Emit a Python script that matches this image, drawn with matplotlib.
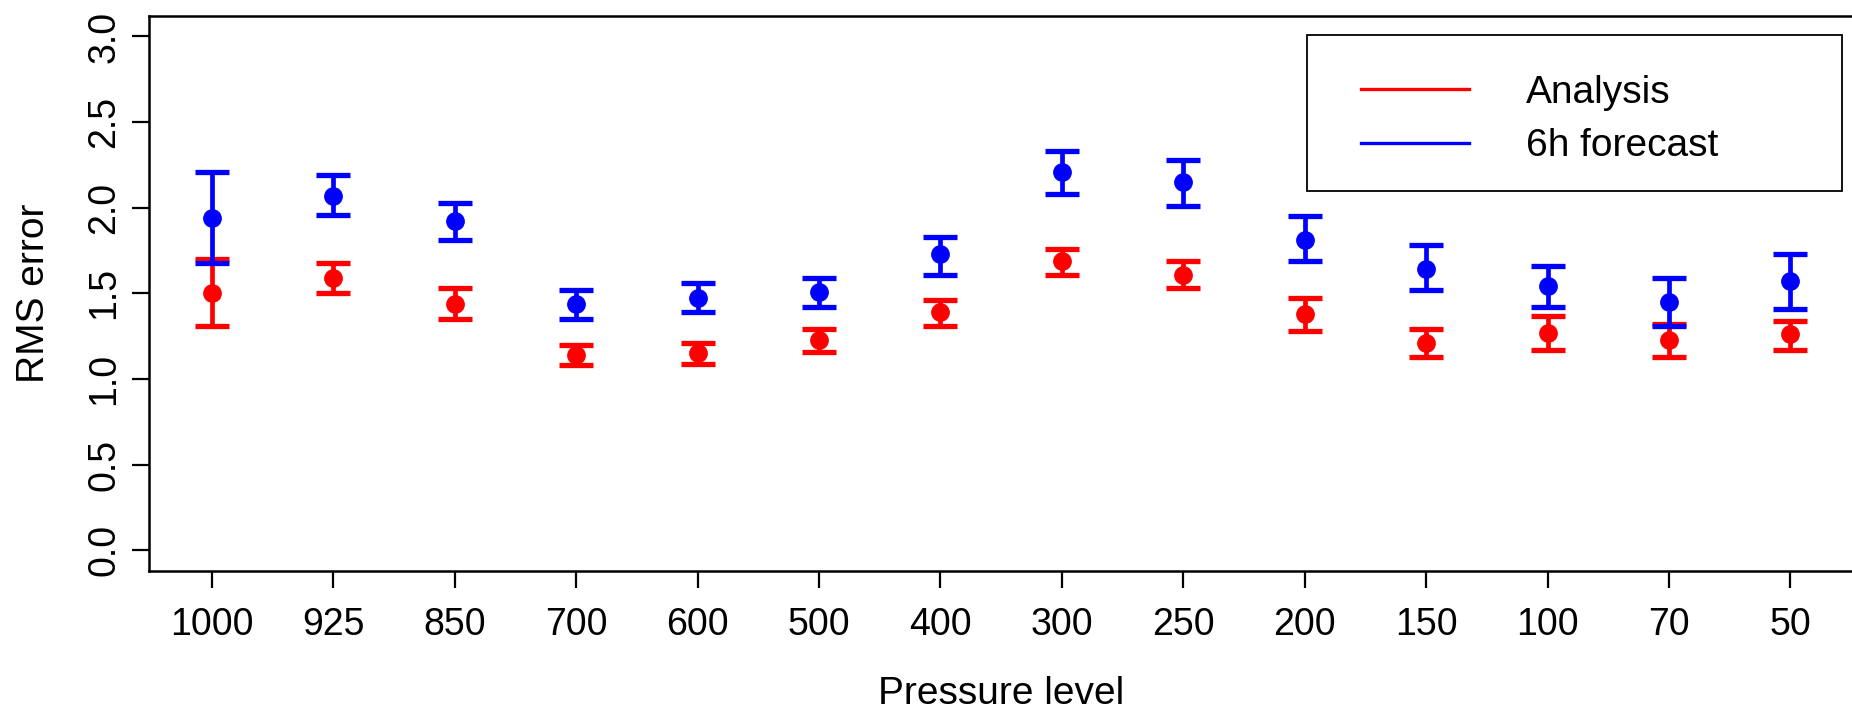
import numpy as np
import matplotlib
matplotlib.use("Agg")
import matplotlib.pyplot as plt
from matplotlib.lines import Line2D

plt.rcParams['font.family'] = ['Liberation Sans', 'DejaVu Sans']

# pressure levels (hPa) and RMS error with interval bounds
levels = ["1000", "925", "850", "700", "600", "500", "400",
          "300", "250", "200", "150", "100", "70", "50"]

ana_mean = [1.50, 1.59, 1.44, 1.14, 1.15, 1.23, 1.39, 1.69, 1.61, 1.38, 1.21, 1.27, 1.23, 1.26]
ana_lo   = [1.31, 1.50, 1.35, 1.08, 1.09, 1.16, 1.31, 1.61, 1.53, 1.28, 1.13, 1.17, 1.13, 1.17]
ana_hi   = [1.70, 1.68, 1.53, 1.20, 1.21, 1.29, 1.46, 1.76, 1.69, 1.47, 1.29, 1.37, 1.32, 1.34]

fc_mean = [1.94, 2.07, 1.92, 1.44, 1.47, 1.51, 1.73, 2.21, 2.15, 1.81, 1.64, 1.54, 1.45, 1.57]
fc_lo   = [1.68, 1.96, 1.81, 1.35, 1.39, 1.42, 1.61, 2.08, 2.01, 1.69, 1.52, 1.42, 1.31, 1.41]
fc_hi   = [2.21, 2.19, 2.03, 1.52, 1.56, 1.59, 1.83, 2.33, 2.28, 1.95, 1.78, 1.66, 1.59, 1.73]

x = np.arange(1, len(levels) + 1)

fig = plt.figure(figsize=(18.52, 7.12), dpi=100)
ax = fig.add_axes([148.7 / 1852, 141.2 / 712, 1704.8 / 1852, 554.9 / 712])

def draw(mean, lo, hi, color):
    mean = np.array(mean)
    err = [mean - np.array(lo), np.array(hi) - mean]
    ax.errorbar(x, mean, yerr=err, fmt='o', color=color, ms=12.5,
                elinewidth=3.4, capsize=12, capthick=3.8)

draw(ana_mean, ana_lo, ana_hi, '#FF0000')
draw(fc_mean, fc_lo, fc_hi, '#0000FF')

ax.set_xlim(0.48, 14.52)
ax.set_ylim(-0.12, 3.12)
ax.set_xticks(x)
ax.set_xticklabels(levels)
ax.set_yticks(np.arange(0, 3.01, 0.5))
ax.set_yticklabels([f"{v:.1f}" for v in np.arange(0, 3.01, 0.5)],
                   rotation=90, va='center')
ax.tick_params(axis='both', labelsize=27, length=12, width=1.6)
ax.tick_params(axis='x', pad=14)
ax.tick_params(axis='y', pad=7)

for s in ['left', 'bottom', 'top']:
    ax.spines[s].set_linewidth(1.8)
ax.spines['right'].set_visible(False)

ax.set_xlabel("Pressure level", fontsize=28)
ax.set_ylabel("RMS error", fontsize=28)
ax.xaxis.set_label_coords(0.5, -0.19)
ax.yaxis.set_label_coords(-0.0567, 0.5)

# legend box
fig.patches.append(plt.Rectangle((1306.9 / 1852, 1 - 190.7 / 712),
                                 (1842.4 - 1306.9) / 1852, (190.7 - 35.4) / 712,
                                 transform=fig.transFigure, fill=False,
                                 edgecolor='black', linewidth=1.3))
handles = [Line2D([], [], color='#FF0000', lw=2.4),
           Line2D([], [], color='#0000FF', lw=2.4)]
fig.legend(handles, ["Analysis", "6h forecast"], loc='center left',
           bbox_to_anchor=(1360.5 / 1852, 1 - 119.5 / 712), frameon=False,
           fontsize=28, handlelength=2.8, handletextpad=1.45,
           borderpad=0, borderaxespad=0, labelspacing=0.45)

fig.savefig("out.png", dpi=100)
